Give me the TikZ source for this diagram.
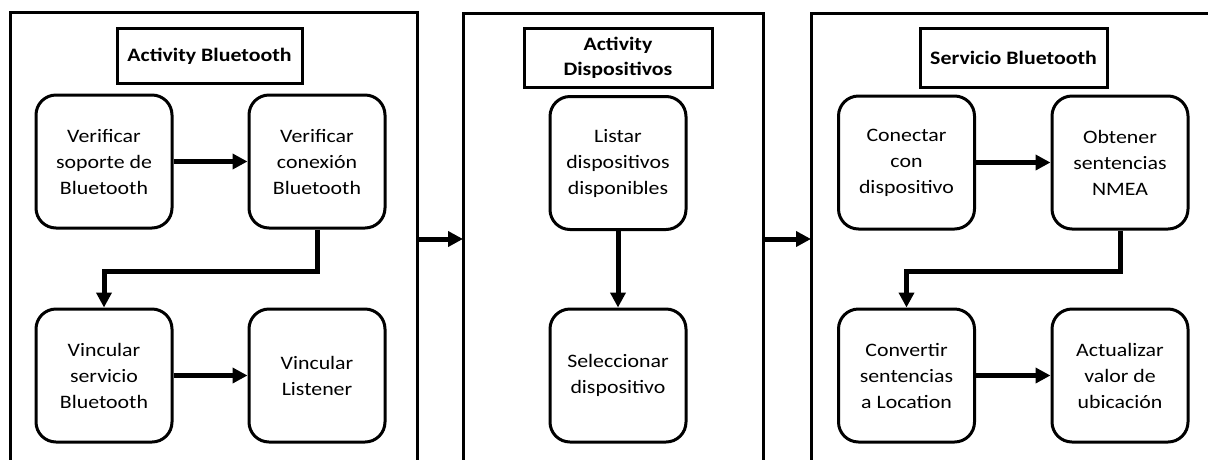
\documentclass[tikz,border=0pt]{standalone}
\usepackage{fontspec}
\setmainfont{Carlito}[FakeStretch=1.15]
\usetikzlibrary{arrows.meta}
\begin{document}
\begin{tikzpicture}[x=1pt,y=-1pt,
  panel/.style={line width=3pt},
  titlebox/.style={draw,line width=3pt,align=center,inner sep=0pt,
    font=\bfseries\fontsize{19}{25}\selectfont},
  stepbox/.style={draw,line width=3pt,rounded corners=20pt,align=center,
    minimum width=136pt,minimum height=133pt,inner sep=2pt,
    font=\fontsize{19}{26}\selectfont},
  arr/.style={line width=5pt,-{Triangle[length=15pt,width=15pt]}}]
\useasboundingbox (0,0) rectangle (1208,459);
\begin{scope}
\clip (0,0) rectangle (1208,459);
% three swimlane panels, open at the bottom
\draw[panel] (10,470) -- (10,12) -- (417,12) -- (417,470);
\draw[panel] (463,470) -- (463,13) -- (763,13) -- (763,470);
\draw[panel] (811,470) -- (811,13) -- (1220,13);
\end{scope}
\coordinate (p1e) at (417,239);
\coordinate (p2w) at (463,239);
\coordinate (p2e) at (763,239);
\coordinate (p3w) at (811,239);

% panel titles
\node[titlebox,minimum width=185pt,minimum height=55pt] (t1) at (209.5,56) {Activity Bluetooth};
\node[titlebox,minimum width=188pt,minimum height=59pt] (t2) at (618,57.5) {Activity\\Dispositivos};
\node[titlebox,minimum width=187pt,minimum height=59pt] (t3) at (1013.5,57.5) {Servicio Bluetooth};

% Activity Bluetooth
\node[stepbox] (a1) at (104,161.5) {Verificar\\soporte de\\Bluetooth};
\node[stepbox] (a2) at (317,161.5) {Verificar\\conexión\\Bluetooth};
\node[stepbox] (a3) at (104,375.5) {Vincular\\servicio\\Bluetooth};
\node[stepbox] (a4) at (317,375.5) {Vincular\\Listener};

% Activity Dispositivos
\node[stepbox] (d1) at (618,163) {Listar\\dispositivos\\disponibles};
\node[stepbox] (d2) at (618,375.5) {Seleccionar\\dispositivo};

% Servicio Bluetooth
\node[stepbox] (s1) at (906.5,162.5) {Conectar\\con\\dispositivo};
\node[stepbox] (s2) at (1120,162.5) {Obtener\\sentencias\\NMEA};
\node[stepbox] (s3) at (906.5,375.5) {Convertir\\sentencias\\a Location};
\node[stepbox] (s4) at (1120,375.5) {Actualizar\\valor de\\ubicación};

% flow
\draw[arr] (a1) -- (a2);
\draw[arr] (a2.south) -- ++(0,42) -| (a3.north);
\draw[arr] (a3) -- (a4);
\draw[arr] (d1) -- (d2);
\draw[arr] (s1) -- (s2);
\draw[arr] (s2.south) -- ++(0,41) -| (s3.north);
\draw[arr] (s3) -- (s4);
\draw[arr] (p1e) -- (p2w);
\draw[arr] (p2e) -- (p3w);
\end{tikzpicture}
\end{document}
